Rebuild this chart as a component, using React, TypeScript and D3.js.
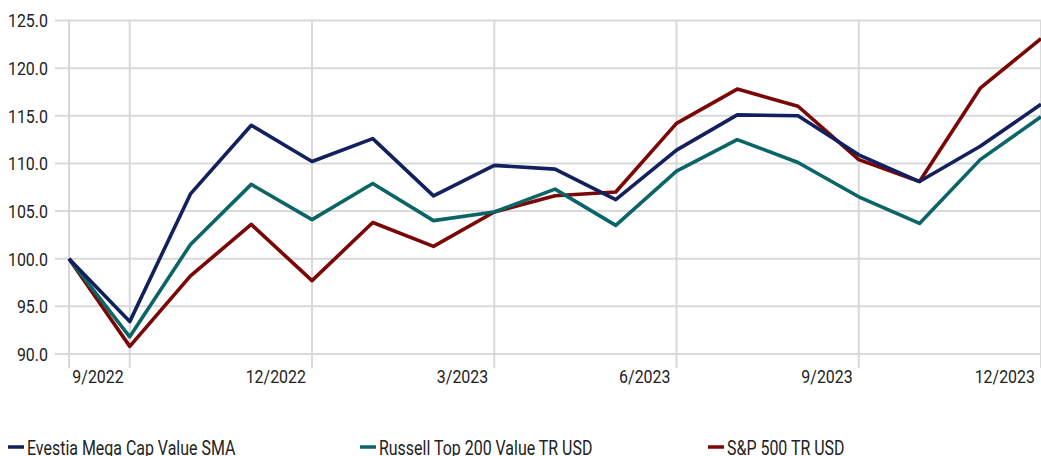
import * as d3 from "d3";

const W = 1041;
const H = 456;

// month-end points: start value, then 9/2022 .. 12/2023
const periods = [
  "8/2022", "9/2022", "10/2022", "11/2022", "12/2022", "1/2023", "2/2023", "3/2023",
  "4/2023", "5/2023", "6/2023", "7/2023", "8/2023", "9/2023", "10/2023", "11/2023", "12/2023",
];
const evestia = [100.0, 93.4, 106.8, 114.0, 110.2, 112.6, 106.6, 109.8, 109.4, 106.2, 111.4, 115.1, 115.0, 110.9, 108.1, 111.8, 116.2];
const russell = [100.0, 91.8, 101.5, 107.8, 104.1, 107.9, 104.0, 104.9, 107.3, 103.5, 109.2, 112.5, 110.1, 106.5, 103.7, 110.4, 114.9];
const sp500 = [100.0, 90.8, 98.2, 103.6, 97.7, 103.8, 101.3, 104.9, 106.6, 107.0, 114.2, 117.8, 116.0, 110.4, 108.1, 117.9, 123.1];

const quarterLabels = ["9/2022", "12/2022", "3/2023", "6/2023", "9/2023", "12/2023"];
const yTicks = [90, 95, 100, 105, 110, 115, 120, 125];

const series = [
  { name: "Evestia Mega Cap Value SMA", values: evestia, color: "#12205e" },
  { name: "Russell Top 200 Value TR USD", values: russell, color: "#0b6466" },
  { name: "S&P 500 TR USD", values: sp500, color: "#7b0606" },
];

const FONT = "Roboto, 'Noto Sans', sans-serif";

// squeeze x to fake the condensed face of the original
function Label(props: { x: number; y: number; size: number; squeeze: number; anchor?: string; dy?: string; children: string }) {
  const { x, y, size, squeeze, anchor = "start", dy = "0", children } = props;
  return (
    <text
      transform={`translate(${x},${y}) scale(${squeeze},1)`}
      dy={dy}
      textAnchor={anchor}
      fontSize={size}
      fill="#222"
    >
      {children}
    </text>
  );
}

export default function App() {
  const x = d3.scalePoint<string>().domain(periods).range([69, 1041]);
  const y = d3.scaleLinear().domain([90, 125]).range([354, 20.5]);

  const line = d3
    .line<number>()
    .x((_, i) => x(periods[i]) as number)
    .y((d) => y(d));

  const grid = "#d9d9d9";
  const drawOrder = [series[2], series[1], series[0]];
  const legendX = [8, 360, 708];

  return (
    <svg
      width={W}
      height={H}
      viewBox={`0 0 ${W} ${H}`}
      style={{ position: "absolute", left: 0, top: 0, background: "#fff" }}
      fontFamily={FONT}
    >
      {yTicks.map((t) => (
        <g key={t}>
          <line x1={55} x2={W} y1={y(t)} y2={y(t)} stroke={grid} strokeWidth={2} />
          <Label x={48} y={y(t)} dy="0.36em" anchor="end" size={19} squeeze={0.84}>
            {t.toFixed(1)}
          </Label>
        </g>
      ))}
      <line x1={69} x2={69} y1={20} y2={368} stroke={grid} strokeWidth={2} />
      {quarterLabels.map((q) => {
        const xx = x(q) as number;
        return (
          <g key={q}>
            <line x1={xx} x2={xx} y1={20} y2={368} stroke={grid} strokeWidth={2} />
            <Label x={xx - 6} y={383} anchor="end" size={19} squeeze={0.84}>
              {q}
            </Label>
          </g>
        );
      })}
      {drawOrder.map((s) => (
        <path
          key={s.name}
          d={line(s.values) || ""}
          fill="none"
          stroke={s.color}
          strokeWidth={3.6}
          strokeLinejoin="round"
        />
      ))}
      {series.map((s, i) => (
        <g key={s.name} transform={`translate(${legendX[i]},447)`}>
          <line x1={0} x2={16} y1={0} y2={0} stroke={s.color} strokeWidth={3.5} />
          <Label x={19} y={8} size={21} squeeze={0.76}>
            {s.name}
          </Label>
        </g>
      ))}
    </svg>
  );
}
